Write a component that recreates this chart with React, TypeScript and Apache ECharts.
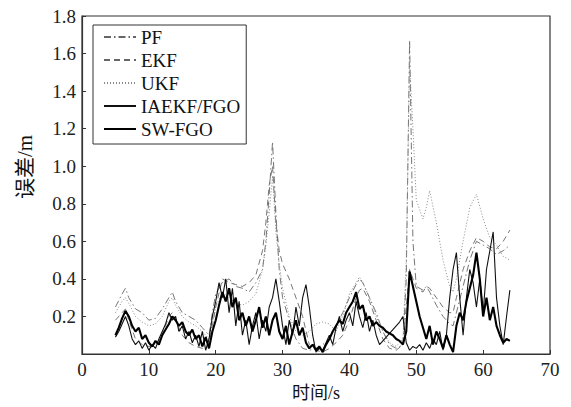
import React, { useEffect, useRef } from "react";
import * as echarts from "echarts";

const SERIES_NAMES = ["PF", "EKF", "UKF", "IAEKF/FGO", "SW-FGO"];
const X_TICKS = [0, 10, 20, 30, 40, 50, 60, 70];
const Y_TICKS = [0.2, 0.4, 0.6, 0.8, 1.0, 1.2, 1.4, 1.6, 1.8];

const T_COARSE = [5, 6, 6.5, 7, 8, 9, 10, 11, 12, 13, 13.5, 14, 15, 16, 17, 18, 19, 19.5, 20, 21, 22, 23, 24, 25, 26, 27, 27.5, 28, 28.5, 29, 29.5, 30, 31, 32, 33, 34, 35, 36, 37, 38, 39, 40, 41, 41.5, 42, 43, 44, 45, 46, 47, 48, 48.5, 49, 49.5, 50, 51, 51.5, 52, 53, 54, 55, 55.5, 56, 57, 58, 59, 60, 61, 62, 63, 64];

const PF = [0.25, 0.32, 0.35, 0.30, 0.24, 0.22, 0.18, 0.19, 0.24, 0.30,
  0.33, 0.28, 0.22, 0.20, 0.18, 0.14, 0.10, 0.22, 0.32, 0.38,
  0.40, 0.36, 0.35, 0.33, 0.38, 0.45, 0.60, 0.85, 1.13, 0.75,
  0.45, 0.30, 0.18, 0.08, 0.03, 0.02, 0.03, 0.05, 0.08, 0.15,
  0.22, 0.30, 0.37, 0.40, 0.38, 0.30, 0.22, 0.12, 0.05, 0.03,
  0.05, 0.40, 1.67, 0.60, 0.36, 0.34, 0.36, 0.33, 0.26, 0.20,
  0.16, 0.15, 0.22, 0.36, 0.50, 0.60, 0.58, 0.56, 0.53, 0.55,
  0.58];

const EKF = [0.18, 0.22, 0.24, 0.18, 0.08, 0.05, 0.04, 0.05, 0.10, 0.20,
  0.22, 0.18, 0.10, 0.06, 0.04, 0.03, 0.05, 0.15, 0.25, 0.40,
  0.38, 0.37, 0.36, 0.38, 0.42, 0.55, 0.70, 0.90, 1.00, 0.70,
  0.55, 0.48, 0.40, 0.30, 0.20, 0.05, 0.02, 0.01, 0.03, 0.06,
  0.10, 0.18, 0.30, 0.34, 0.35, 0.28, 0.18, 0.08, 0.03, 0.02,
  0.05, 0.25, 0.45, 0.40, 0.35, 0.33, 0.36, 0.35, 0.30, 0.25,
  0.22, 0.22, 0.30, 0.45, 0.55, 0.62, 0.60, 0.57, 0.56, 0.60,
  0.66];

const UKF = [0.22, 0.28, 0.30, 0.27, 0.20, 0.17, 0.15, 0.16, 0.20, 0.28,
  0.30, 0.26, 0.20, 0.17, 0.15, 0.12, 0.08, 0.16, 0.25, 0.33,
  0.30, 0.27, 0.26, 0.28, 0.32, 0.45, 0.58, 0.75, 0.95, 0.65,
  0.48, 0.35, 0.20, 0.12, 0.10, 0.12, 0.16, 0.17, 0.16, 0.12,
  0.20, 0.32, 0.38, 0.41, 0.38, 0.30, 0.20, 0.12, 0.06, 0.04,
  0.08, 0.50, 1.55, 1.20, 0.82, 0.72, 0.78, 0.87, 0.70, 0.50,
  0.36, 0.33, 0.40, 0.60, 0.78, 0.85, 0.72, 0.62, 0.58, 0.52,
  0.50];

const T_FINE = [5, 5.5, 6, 6.5, 7, 7.5, 8, 8.5, 9, 9.5,
  10, 10.5, 11, 11.5, 12, 12.5, 13, 13.5, 14, 14.5,
  15, 15.5, 16, 16.5, 17, 17.5, 18, 18.5, 19, 19.5,
  20, 20.5, 21, 21.5, 22, 22.5, 23, 23.5, 24, 24.5,
  25, 25.5, 26, 26.5, 27, 27.5, 28, 28.5, 29, 29.5,
  30, 30.5, 31, 31.5, 32, 32.5, 33, 33.5, 34, 34.5,
  35, 35.5, 36, 36.5, 37, 37.5, 38, 38.5, 39, 39.5,
  40, 40.5, 41, 41.5, 42, 42.5, 43, 43.5, 44, 44.5,
  45, 45.5, 46, 46.5, 47, 47.5, 48, 48.5, 49, 49.5,
  50, 50.5, 51, 51.5, 52, 52.5, 53, 53.5, 54, 54.5,
  55, 55.5, 56, 56.5, 57, 57.5, 58, 58.5, 59, 59.5,
  60, 60.5, 61, 61.5, 62, 62.5, 63, 63.5, 64];

const IAEKF = [0.09, 0.12, 0.16, 0.20, 0.15, 0.08, 0.05, 0.07, 0.03, 0.06,
  0.02, 0.05, 0.03, 0.08, 0.12, 0.16, 0.22, 0.18, 0.20, 0.12,
  0.15, 0.08, 0.12, 0.06, 0.10, 0.04, 0.12, 0.02, 0.08, 0.20,
  0.28, 0.38, 0.30, 0.40, 0.22, 0.35, 0.15, 0.28, 0.10, 0.18,
  0.05, 0.15, 0.22, 0.08, 0.18, 0.12, 0.25, 0.30, 0.40, 0.28,
  0.15, 0.05, 0.18, 0.10, 0.25, 0.15, 0.30, 0.37, 0.25, 0.10,
  0.01, 0.03, 0.02, 0.06, 0.10, 0.05, 0.14, 0.20, 0.12, 0.18,
  0.22, 0.15, 0.28, 0.20, 0.14, 0.22, 0.12, 0.18, 0.10, 0.05,
  0.07, 0.09, 0.11, 0.13, 0.15, 0.17, 0.20, 0.06, 0.02, 0.04,
  0.03, 0.05, 0.02, 0.06, 0.03, 0.08, 0.05, 0.12, 0.02, 0.10,
  0.30, 0.45, 0.54, 0.30, 0.10, 0.30, 0.45, 0.38, 0.25, 0.40,
  0.22, 0.45, 0.55, 0.65, 0.30, 0.15, 0.05, 0.20, 0.34];

const SWFGO = [0.10, 0.14, 0.19, 0.23, 0.20, 0.15, 0.12, 0.14, 0.08, 0.10,
  0.06, 0.04, 0.07, 0.05, 0.10, 0.13, 0.16, 0.20, 0.18, 0.15,
  0.17, 0.12, 0.10, 0.13, 0.08, 0.10, 0.04, 0.09, 0.03, 0.12,
  0.18, 0.26, 0.33, 0.28, 0.35, 0.25, 0.30, 0.18, 0.22, 0.15,
  0.20, 0.12, 0.18, 0.25, 0.14, 0.20, 0.10, 0.18, 0.22, 0.12,
  0.08, 0.15, 0.05, 0.12, 0.18, 0.10, 0.14, 0.06, 0.03, 0.05,
  0.02, 0.04, 0.01, 0.05, 0.08, 0.12, 0.15, 0.18, 0.16, 0.22,
  0.25, 0.28, 0.33, 0.24, 0.26, 0.18, 0.20, 0.15, 0.17, 0.15,
  0.14, 0.12, 0.11, 0.10, 0.08, 0.07, 0.05, 0.12, 0.44, 0.36,
  0.28, 0.20, 0.14, 0.08, 0.15, 0.05, 0.12, 0.08, 0.03, 0.10,
  0.05, 0.01, 0.15, 0.22, 0.18, 0.28, 0.35, 0.42, 0.54, 0.40,
  0.20, 0.30, 0.18, 0.25, 0.15, 0.10, 0.06, 0.08, 0.07];

const SERIF = "Liberation Serif";
const CJK = "Liberation Serif, Noto Sans CJK SC";

export default function App() {
  const ref = useRef<HTMLDivElement>(null);
  useEffect(() => {
    if (!ref.current) return;
    const chart = echarts.init(ref.current, undefined, { renderer: "svg" });
    const pair = (t: number[], v: number[]) => t.map((x, i) => [x, v[i]]);
    const styles = [
      { color: "#666", width: 0.9, type: [7, 3, 1.5, 3] as any },
      { color: "#666", width: 0.9, type: [6, 4] as any },
      { color: "#888", width: 1, type: [1, 2] as any },
      { color: "#111", width: 1.1, type: "solid" as any },
      { color: "#000", width: 2.1, type: "solid" as any },
    ];
    const datas = [
      pair(T_COARSE, PF),
      pair(T_COARSE, EKF),
      pair(T_COARSE, UKF),
      pair(T_FINE, IAEKF),
      pair(T_FINE, SWFGO),
    ];
    chart.setOption({
      animation: false,
      backgroundColor: "#fff",
      grid: {
        left: 82, right: 21, top: 16, bottom: 53,
        show: true, borderColor: "#333", borderWidth: 1.2,
      },
      legend: {
        data: SERIES_NAMES,
        orient: "vertical",
        left: 93, top: 25,
        itemGap: 3, itemWidth: 32, itemHeight: 14,
        padding: [2, 6, 5, 10],
        borderColor: "#333", borderWidth: 1,
        backgroundColor: "#fff",
        itemStyle: { opacity: 0 },
        textStyle: { fontFamily: SERIF, fontSize: 19, lineHeight: 20, color: "#111" },
      },
      xAxis: {
        type: "value", min: 0, max: 70, interval: 10,
        name: "时间/s", nameLocation: "middle", nameGap: 26,
        nameTextStyle: { fontFamily: CJK, fontSize: 18, color: "#111" },
        axisLine: { show: true, lineStyle: { color: "#333", width: 1.2 } },
        axisTick: { show: true, inside: true, length: 4, lineStyle: { color: "#333" } },
        axisLabel: { fontFamily: SERIF, fontSize: 19, color: "#222", margin: 6,
          formatter: (v: number) => (X_TICKS.includes(v) ? String(v) : "") },
        splitLine: { show: false },
      },
      yAxis: {
        type: "value", min: 0, max: 1.8, interval: 0.2,
        axisLine: { show: true, lineStyle: { color: "#333", width: 1.2 } },
        axisTick: { show: true, inside: true, length: 4, lineStyle: { color: "#333" } },
        axisLabel: { fontFamily: SERIF, fontSize: 19, color: "#222", margin: 6,
          formatter: (v: number) => {
            const m = Y_TICKS.find((y) => Math.abs(y - v) < 1e-6);
            return m === undefined ? "" : m.toFixed(1);
          } },
        splitLine: { show: false },
      },
      graphic: [
        {
          type: "text", x: 25, y: 167, rotation: Math.PI / 2,
          style: { text: "误差/m", fontFamily: CJK, fontSize: 21,
            fill: "#111", align: "center", verticalAlign: "middle" },
        },
      ],
      series: SERIES_NAMES.map((name, i) => ({
        name, type: "line", data: datas[i], symbol: "none",
        lineStyle: styles[i], itemStyle: { color: styles[i].color },
        z: 2 + i,
      })),
    });
    return () => chart.dispose();
  }, []);
  return <div ref={ref} style={{ width: 571, height: 407, position: "fixed", left: 0, top: 0 }} />;
}
